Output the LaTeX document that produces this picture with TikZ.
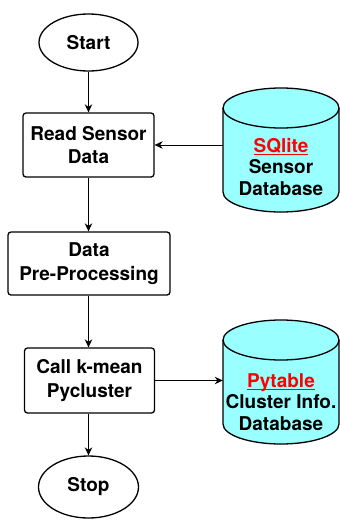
\documentclass[tikz,border=0pt]{standalone}
\usepackage{fontspec}
\setmainfont{TeX Gyre Heros}
\usetikzlibrary{arrows.meta,shapes.geometric}
\definecolor{dbfill}{RGB}{153,255,255}
\definecolor{dbred}{RGB}{255,0,0}
% red underlined label, rule set just below the baseline
\newcommand\dblabel[1]{\textcolor{dbred}{\setbox0\hbox{#1}\rlap{\rule[-2.4pt]{\wd0}{1.1pt}}\box0}}
\tikzset{
  procbox/.style={draw, line width=1.3pt, rounded corners=3pt, align=center, inner sep=0pt},
  term/.style={draw, ellipse, line width=1.3pt, inner sep=0pt},
  dbbody/.style={inner sep=0pt, minimum width=116pt, minimum height=124pt},
  dbshape/.style={draw, fill=dbfill, line width=1.3pt},
  dbtext/.style={align=center, inner sep=0pt, font=\fontsize{19}{21.5}\selectfont\bfseries},
  conn/.style={draw, line width=0.9pt, -{Stealth[length=8pt,width=7.5pt,inset=2.5pt]}},
}
\begin{document}
\begin{tikzpicture}[x=1pt, y=-1pt, font=\fontsize{19}{23.5}\selectfont\bfseries]
\useasboundingbox (0,0) rectangle (340,520);

% flow-chart column
\node[term, minimum width=99pt, minimum height=57pt] (start) at (88.5,42.5) {Start};
\node[procbox, minimum width=131pt, minimum height=64pt] (read) at (88.5,145) {Read Sensor\\Data};
\node[procbox, minimum width=162pt, minimum height=63pt] (prep) at (89,263.5) {Data\\Pre-Processing};
\node[procbox, minimum width=130pt, minimum height=65pt] (call) at (89.5,380.5) {Call k-mean\\Pycluster};
\node[term, minimum width=100pt, minimum height=62pt] (stop) at (88.5,487) {Stop};

% SQlite cylinder
\node[dbbody] (db1) at (281,150) {};
\path[dbshape] (223,108) -- (223,192)
  arc[start angle=180, end angle=360, x radius=58pt, y radius=20pt]
  -- (339,108)
  arc[start angle=0, end angle=180, x radius=58pt, y radius=20pt] -- cycle;
\draw[line width=1.3pt] (223,108) arc[start angle=180, end angle=360, x radius=58pt, y radius=20pt];
\node[dbtext] (db1text) at (281,167) {\dblabel{SQlite}\\Sensor\\Database};

% Pytable cylinder
\node[dbbody] (db2) at (281,382) {};
\path[dbshape] (223,340) -- (223,424)
  arc[start angle=180, end angle=360, x radius=58pt, y radius=20pt]
  -- (339,340)
  arc[start angle=0, end angle=180, x radius=58pt, y radius=20pt] -- cycle;
\draw[line width=1.3pt] (223,340) arc[start angle=180, end angle=360, x radius=58pt, y radius=20pt];
\node[dbtext] (db2text) at (281,402) {\dblabel{Pytable}\\Cluster Info.\\Database};

% connectors
\draw[conn] (start.south) -- (read.north);
\draw[conn] (read.south) -- (read.south |- prep.north);
\draw[conn] (read.south |- prep.south) -- (read.south |- call.north);
\draw[conn] (read.south |- call.south) -- (stop.north);
\draw[conn] (db1.west |- read.east) -- (read.east);
\draw[conn] (call.east) -- (call.east -| db2.west);
\end{tikzpicture}
\end{document}
